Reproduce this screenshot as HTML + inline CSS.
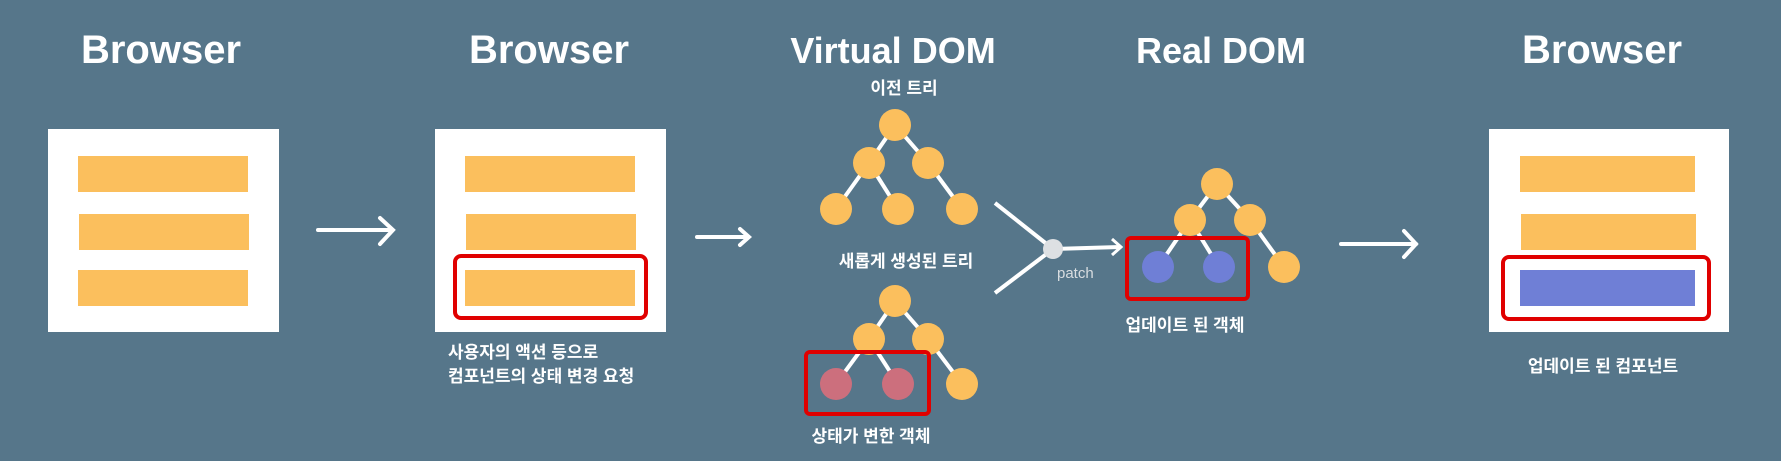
<!DOCTYPE html>
<html><head><meta charset="utf-8"><style>
html,body{margin:0;padding:0;background:#56768a;}
svg{display:block}
.t{font-family:"Liberation Sans","Noto Sans CJK KR",sans-serif;font-weight:bold;fill:#fff}
.k{font-family:"Liberation Sans","Noto Sans CJK KR",sans-serif;font-weight:bold;fill:#fff;font-size:17px}
</style></head><body>
<svg width="1781" height="461" viewBox="0 0 1781 461" xmlns="http://www.w3.org/2000/svg">
<rect width="1781" height="461" fill="#56768a"/>
<g class="t" font-size="40" text-anchor="middle">
<text x="161" y="63">Browser</text>
<text x="549" y="63">Browser</text>
<text x="893" y="63" font-size="36">Virtual DOM</text>
<text x="1221" y="63" font-size="36">Real DOM</text>
<text x="1602" y="63">Browser</text>
</g>
<!-- box1 -->
<rect x="48" y="129" width="231" height="203" fill="#fff"/>
<rect x="78" y="156" width="170" height="36" fill="#fbbf5d"/>
<rect x="79" y="214" width="170" height="36" fill="#fbbf5d"/>
<rect x="78" y="270" width="170" height="36" fill="#fbbf5d"/>
<!-- arrow1 -->
<g stroke="#fff" stroke-width="4" fill="none" stroke-linecap="round">
<line x1="318" y1="230" x2="392" y2="230"/><polyline points="380,218 393,230 380,244"/>
<line x1="697" y1="237" x2="748" y2="237"/><polyline points="740,229 749,237 740,245"/>
<line x1="1341" y1="244" x2="1416" y2="244"/><polyline points="1404,231 1416,244 1404,257"/>
</g>
<!-- box2 -->
<rect x="435" y="129" width="231" height="203" fill="#fff"/>
<rect x="465" y="156" width="170" height="36" fill="#fbbf5d"/>
<rect x="466" y="214" width="170" height="36" fill="#fbbf5d"/>
<rect x="465" y="270" width="170" height="36" fill="#fbbf5d"/>
<rect x="455" y="256" width="191" height="62" rx="6" fill="none" stroke="#e00000" stroke-width="4"/>
<text class="k" x="448" y="358">사용자의 액션 등으로</text>
<text class="k" x="448" y="382">컴포넌트의 상태 변경 요청</text>
<!-- VDOM -->
<text class="k" x="904" y="94" text-anchor="middle">이전 트리</text>
<g stroke="#fff" stroke-width="4">
<line x1="895" y1="125" x2="869" y2="163"/><line x1="895" y1="125" x2="928" y2="163"/>
<line x1="869" y1="163" x2="836" y2="209"/><line x1="869" y1="163" x2="898" y2="209"/><line x1="928" y1="163" x2="962" y2="209"/>
<line x1="895" y1="301" x2="869" y2="339"/><line x1="895" y1="301" x2="928" y2="339"/>
<line x1="869" y1="339" x2="836" y2="384"/><line x1="869" y1="339" x2="898" y2="384"/><line x1="928" y1="339" x2="962" y2="384"/>
<line x1="1217" y1="184" x2="1190" y2="220"/><line x1="1217" y1="184" x2="1250" y2="220"/>
<line x1="1190" y1="220" x2="1158" y2="267"/><line x1="1190" y1="220" x2="1219" y2="267"/><line x1="1250" y1="220" x2="1284" y2="267"/>
<line x1="995" y1="203" x2="1053" y2="249"/><line x1="995" y1="293" x2="1053" y2="249"/>
<line x1="1053" y1="249" x2="1120" y2="247"/>
</g>
<polyline points="1112,239 1121,247 1112,255" stroke="#fff" stroke-width="3" fill="none"/>
<circle cx="1053" cy="249" r="10" fill="#dde0e3"/>
<text x="1057" y="278" font-family="Liberation Sans,sans-serif" font-size="15" fill="#d8dde0">patch</text>
<g fill="#fbbf5d">
<circle cx="895" cy="125" r="16"/><circle cx="869" cy="163" r="16"/><circle cx="928" cy="163" r="16"/>
<circle cx="836" cy="209" r="16"/><circle cx="898" cy="209" r="16"/><circle cx="962" cy="209" r="16"/>
<circle cx="895" cy="301" r="16"/><circle cx="869" cy="339" r="16"/><circle cx="928" cy="339" r="16"/>
<circle cx="962" cy="384" r="16"/>
<circle cx="1217" cy="184" r="16"/><circle cx="1190" cy="220" r="16"/><circle cx="1250" cy="220" r="16"/>
<circle cx="1284" cy="267" r="16"/>
</g>
<circle cx="836" cy="384" r="16" fill="#cc6f7d"/><circle cx="898" cy="384" r="16" fill="#cc6f7d"/>
<circle cx="1158" cy="267" r="16" fill="#6f7fd6"/><circle cx="1219" cy="267" r="16" fill="#6f7fd6"/>
<rect x="806" y="352" width="123" height="62" rx="4" fill="none" stroke="#e00000" stroke-width="4"/>
<rect x="1127" y="238" width="121" height="61" rx="4" fill="none" stroke="#e00000" stroke-width="4"/>
<text class="k" x="906" y="267" text-anchor="middle">새롭게 생성된 트리</text>
<text class="k" x="871" y="442" text-anchor="middle">상태가 변한 객체</text>
<text class="k" x="1185" y="331" text-anchor="middle">업데이트 된 객체</text>
<!-- box3 -->
<rect x="1489" y="129" width="240" height="203" fill="#fff"/>
<rect x="1520" y="156" width="175" height="36" fill="#fbbf5d"/>
<rect x="1521" y="214" width="175" height="36" fill="#fbbf5d"/>
<rect x="1520" y="270" width="175" height="36" fill="#6f7fd6"/>
<rect x="1503" y="257" width="206" height="62" rx="6" fill="none" stroke="#e00000" stroke-width="4"/>
<text class="k" x="1603" y="372" text-anchor="middle">업데이트 된 컴포넌트</text>
</svg>
</body></html>
